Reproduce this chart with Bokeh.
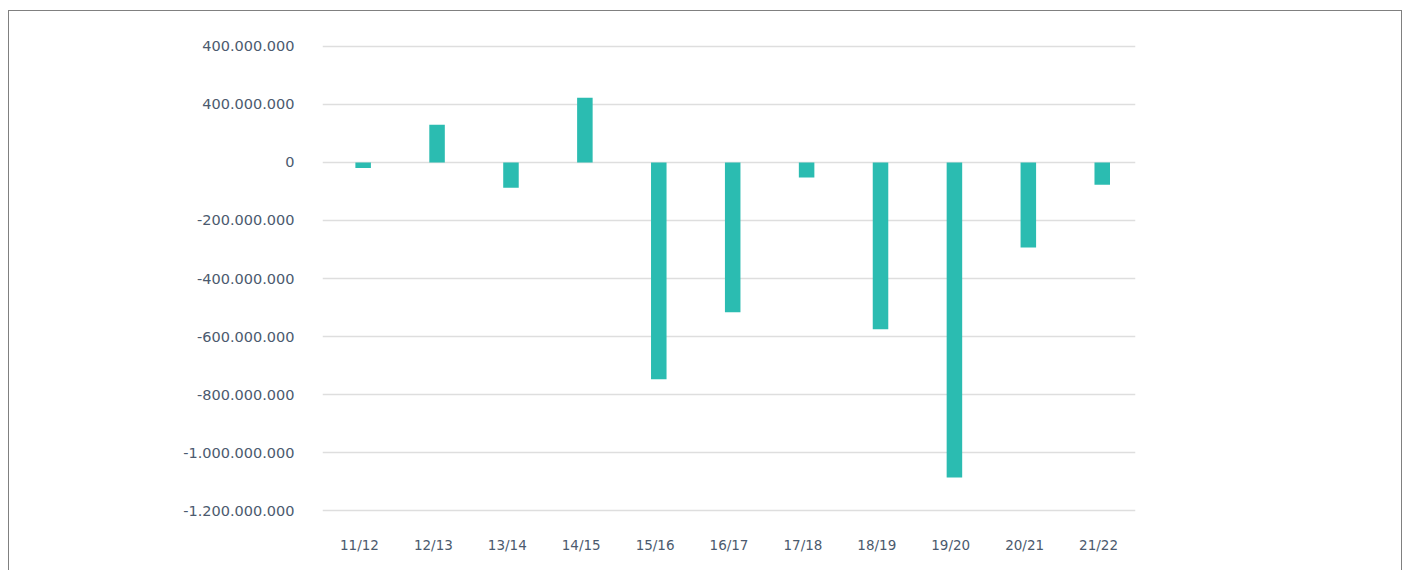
from bokeh.plotting import figure
from bokeh.models import Range1d, FactorRange, ColumnDataSource, FixedTicker
from bokeh.embed import file_html
from bokeh.resources import INLINE

seasons = ["11/12", "12/13", "13/14", "14/15", "15/16", "16/17",
           "17/18", "18/19", "19/20", "20/21", "21/22"]
values = [-19e6, 130e6, -87e6, 223e6, -747e6, -516e6,
          -52e6, -575e6, -1086e6, -293e6, -77e6]
tick_values = [400e6, 200e6, 0, -200e6, -400e6, -600e6, -800e6, -1000e6, -1200e6]
tick_labels = ["400.000.000", "400.000.000", "0", "-200.000.000", "-400.000.000",
               "-600.000.000", "-800.000.000", "-1.000.000.000", "-1.200.000.000"]

bar_x = [(s, 0.05) for s in seasons]
src = ColumnDataSource(dict(x=bar_x, top=values))

p = figure(x_range=FactorRange(factors=seasons, range_padding=0),
           y_range=Range1d(-1220e6, 420e6),
           width=1394, height=560, output_backend="svg", toolbar_location=None,
           min_border_left=313, min_border_right=268, min_border_top=29,
           min_border_bottom=55)
p.styles = {"border-top": "1.5px solid #808080", "border-left": "1.5px solid #808080",
            "border-right": "1.5px solid #808080",
            "margin-top": "10px", "margin-left": "8px"}

p.vbar(x="x", top="top", bottom=0, width=0.21, source=src,
       fill_color="#2bbcb1", line_color=None)

p.outline_line_color = None
p.background_fill_color = "white"
p.border_fill_color = "white"

p.xgrid.grid_line_color = None
p.ygrid.grid_line_color = "#dedede"
p.ygrid.grid_line_width = 1.5
p.ygrid.ticker = FixedTicker(ticks=tick_values)

p.yaxis.ticker = FixedTicker(ticks=tick_values)
p.yaxis.major_label_overrides = {v: l for v, l in zip(tick_values, tick_labels)}

for ax in (p.xaxis, p.yaxis):
    ax.axis_line_color = None
    ax.major_tick_line_color = None
    ax.minor_tick_line_color = None
    ax.major_label_text_font = "DejaVu Sans"
    ax.major_label_text_color = "#4b5a6e"

p.yaxis.major_label_text_font_size = "14.5px"
p.xaxis.major_label_text_font_size = "13.5px"
p.yaxis.major_label_standoff = 22
p.xaxis.major_label_standoff = 14

open("out.html", "w").write(file_html(p, INLINE))
